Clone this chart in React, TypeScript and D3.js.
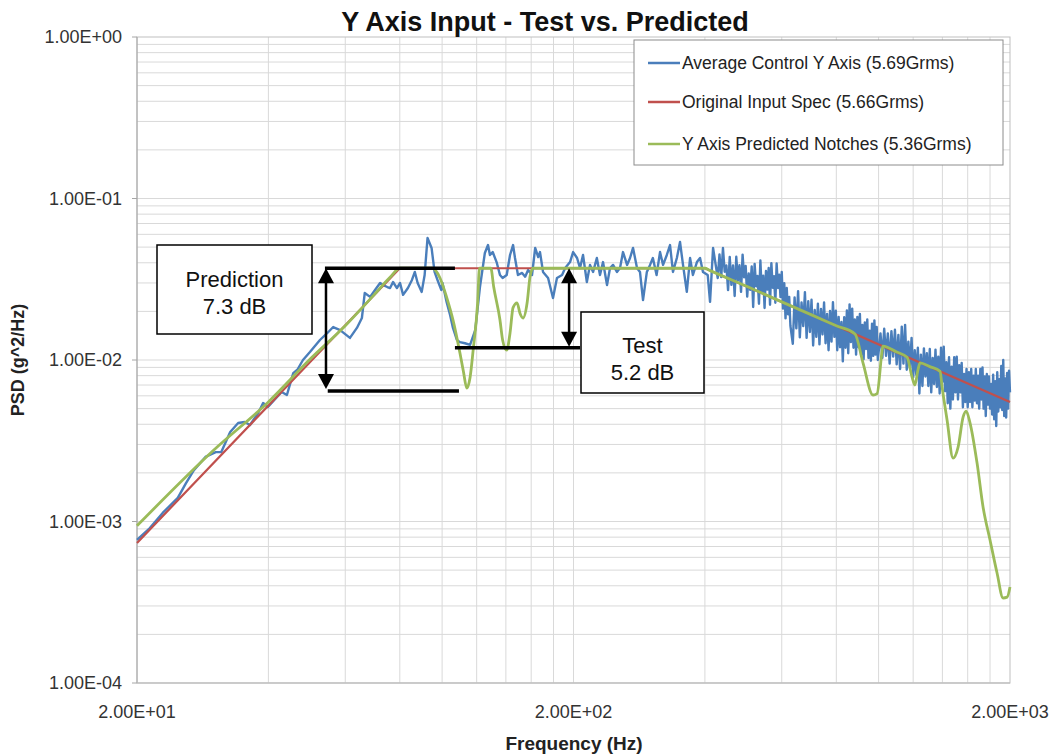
import React from 'react';
import * as d3 from 'd3';

const W = 1056;
const H = 756;
const PLOT = { left: 137, right: 1010, top: 37, bottom: 683 };

const chartTitle = 'Y Axis Input - Test vs. Predicted';
const xAxisTitle = 'Frequency (Hz)';
const yAxisTitle = 'PSD (g^2/Hz)';

const xTickValues = [20, 200, 2000];
const xTickLabels = ['2.00E+01', '2.00E+02', '2.00E+03'];
const yTickValues = [1, 0.1, 0.01, 0.001, 0.0001];
const yTickLabels = ['1.00E+00', '1.00E-01', '1.00E-02', '1.00E-03', '1.00E-04'];

const seriesNames = [
  'Average Control Y Axis (5.69Grms)',
  'Original Input Spec (5.66Grms)',
  'Y Axis Predicted Notches (5.36Grms)',
];
const seriesColors = ['#4a7ebb', '#c0504d', '#9bbb59'];

// Original input spec (Hz, g^2/Hz)
const inputSpec: [number, number][] = [
  [20, 0.000736], [80, 0.037], [400, 0.037], [2000, 0.0055],
];

// Predicted notches (Hz, g^2/Hz)
const predictedNotches: [number, number][] = [
  [20, 0.00094], [30, 0.00277], [40, 0.0055], [50, 0.0102], [60, 0.0163], [70, 0.0255],
  [76, 0.0325], [80, 0.037], [95, 0.037],
  [98.9, 0.0322], [102.4, 0.0245], [105.9, 0.0177], [109.9, 0.011], [111.9, 0.0085],
  [113.9, 0.0067], [115.9, 0.0078], [117.8, 0.0115], [120.6, 0.0225], [121.8, 0.037],
  [129.3, 0.037], [131.3, 0.0283], [135.7, 0.0177], [137.6, 0.0133], [140.6, 0.0115],
  [143.1, 0.0147], [145.4, 0.0211], [148.5, 0.0226], [150.8, 0.0195], [153.3, 0.0182],
  [156.6, 0.0226], [159, 0.0328], [161.5, 0.037], [250, 0.037], [400, 0.037],
  [410, 0.0359], [500, 0.0285], [600, 0.0229], [700, 0.0191], [800, 0.0163], [883, 0.0145],
  [921, 0.0096], [971, 0.00607], [992, 0.0062], [1019, 0.0115], [1023, 0.0122],
  [1100, 0.0112], [1162, 0.0104], [1193, 0.00785], [1211, 0.007], [1231, 0.0087], [1244, 0.0096],
  [1310, 0.0091], [1383, 0.0085], [1398, 0.0068], [1435, 0.00425], [1481, 0.00247], [1521, 0.00289],
  [1562, 0.00444], [1587, 0.00483], [1620, 0.00407], [1681, 0.0023], [1735, 0.00123],
  [1800, 0.000768], [1868, 0.00048], [1928, 0.000336], [1970, 0.00034], [2000, 0.000393],
];

// Average control measurement (Hz, g^2/Hz)
const averageControl: [number, number][] = [
  [20, 0.00077], [21.4, 0.00091], [22.9, 0.00113], [24.8, 0.0014], [25.9, 0.00173],
  [27.0, 0.00208], [28.7, 0.00251], [30.3, 0.00269], [31.2, 0.00269], [32.7, 0.00358],
  [34.1, 0.00407], [35.3, 0.00413], [36.3, 0.00396], [37.9, 0.0047], [38.9, 0.00542],
  [39.9, 0.00512], [42.9, 0.00634], [44.1, 0.00607], [45.6, 0.0083], [46.6, 0.0087],
  [48.0, 0.010], [49.8, 0.0112], [52.5, 0.0133], [54.6, 0.0147], [56.3, 0.016],
  [58.4, 0.0153], [61.5, 0.0137], [63.8, 0.0158], [65.5, 0.0182], [66.5, 0.026],
  [68.4, 0.0246], [70.2, 0.0271], [72.1, 0.030], [73.3, 0.0291], [74.9, 0.0283],
  [76.0, 0.0279], [77.2, 0.0304], [78.8, 0.0279], [80.1, 0.030], [81.4, 0.0253],
  [83.5, 0.0279], [85.3, 0.0313], [86.6, 0.0351], [87.9, 0.030], [89.8, 0.0264],
  [91.2, 0.0336], [92.6, 0.0569], [94.6, 0.0494], [96.1, 0.0351], [97.6, 0.0313],
  [99.6, 0.0271], [100.2, 0.030], [102.4, 0.0229], [104.3, 0.019], [105.9, 0.0158],
  [108.1, 0.0133], [109.9, 0.0129], [112.8, 0.0127], [115.9, 0.0124], [119.1, 0.0153],
  [122.1, 0.0283], [125.3, 0.046], [127.4, 0.0515], [128.7, 0.0447], [130.6, 0.0466],
  [133.3, 0.0404], [135.7, 0.0336], [137.6, 0.0322], [140.6, 0.0336], [143.1, 0.0447],
  [145.4, 0.0515], [146.9, 0.0428], [149.2, 0.0336], [152.5, 0.0346], [155, 0.0328],
  [157.4, 0.0361], [160.7, 0.0336], [163.4, 0.0494], [166, 0.0434], [167.6, 0.0466],
  [170.3, 0.0351], [174.9, 0.0322], [179.5, 0.0242], [183.3, 0.0322], [188.3, 0.0336],
  [191.4, 0.0371], [196.4, 0.0404], [199.6, 0.0466], [203.8, 0.0428], [207, 0.0371],
  [210.3, 0.0447], [214.6, 0.0304], [218.2, 0.0388], [221.8, 0.0351], [226.2, 0.0428],
  [230, 0.0336], [233.7, 0.0404], [238.7, 0.0291], [242.5, 0.0371], [246.4, 0.0388],
  [251.5, 0.0351], [255.6, 0.0371], [259.7, 0.0466], [265.3, 0.0388], [269.5, 0.0428],
  [273.8, 0.0494], [279.6, 0.0371], [284, 0.0351], [288.6, 0.0235], [294.5, 0.0351],
  [299.5, 0.0388], [304, 0.0428], [310, 0.0336], [315.7, 0.0466], [320.8, 0.0388],
  [327.2, 0.0447], [332.8, 0.0515], [338, 0.0351], [345, 0.0428], [350.8, 0.0538],
  [356.4, 0.0388], [363.6, 0.0264], [369.9, 0.0428], [375.5, 0.0336], [383.5, 0.0404],
  [389.9, 0.0428], [396, 0.0351], [406, 0.0336], [411, 0.0229], [417.6, 0.0494],
  [428, 0.0322],
  [432, 0.0451], [436, 0.0326], [440, 0.0494], [444, 0.0352], [448, 0.0385],
  [452, 0.0271], [456, 0.0435], [460, 0.0292], [464, 0.0385], [468, 0.0249],
  [472, 0.0436], [476, 0.0311], [480, 0.0386], [484, 0.0264], [488, 0.0449],
  [492, 0.0325], [496, 0.0382], [500, 0.0247], [504, 0.0344], [508, 0.0272],
  [512, 0.0379], [516, 0.0213], [520, 0.0394], [524, 0.0286], [528, 0.0331],
  [532, 0.0223], [536, 0.0413], [540, 0.026], [544, 0.0333], [548, 0.021],
  [552, 0.0356], [556, 0.0273], [560, 0.0371], [564, 0.022], [568, 0.0398],
  [572, 0.028], [576, 0.033], [580, 0.0226], [584, 0.0396], [588, 0.0279],
  [592, 0.0338], [596, 0.0245], [600, 0.0351], [604, 0.0208], [608, 0.0299],
  [612, 0.0181], [616, 0.0279], [620, 0.0192], [624, 0.0246], [628, 0.0163],
  [636, 0.0126], [642, 0.0244], [648, 0.0157], [654, 0.0267], [660, 0.0138],
  [666, 0.0227], [672, 0.0162], [678, 0.0263], [684, 0.0137], [690, 0.0231],
  [696, 0.0149], [702, 0.0236], [708, 0.0123], [714, 0.0204], [720, 0.0139],
  [726, 0.0223], [732, 0.0125], [738, 0.0207], [744, 0.0144], [750, 0.0227],
  [756, 0.0127], [762, 0.0193], [768, 0.0115], [774, 0.0201], [780, 0.013],
  [786, 0.0228], [792, 0.0139], [798, 0.0202], [804, 0.0115], [810, 0.0185],
  [816, 0.012], [822, 0.0172], [828, 0.0098], [834, 0.0184], [840, 0.0119],
  [846, 0.0203], [852, 0.011], [858, 0.0221], [864, 0.0129], [870, 0.0208],
  [876, 0.0119], [882, 0.0178], [888, 0.0108], [894, 0.0185], [900, 0.012],
  [906, 0.0193], [912, 0.0108], [918, 0.0165], [924, 0.0101], [930, 0.0171],
  [936, 0.0117], [942, 0.0178], [948, 0.0103], [954, 0.0152], [960, 0.0099],
  [966, 0.0168], [972, 0.0106], [978, 0.0176], [984, 0.0108], [990, 0.016],
  [996, 0.01],
  [1010, 0.0146], [1020, 0.0103], [1030, 0.0156], [1040, 0.0106], [1050, 0.0146],
  [1060, 0.0095], [1070, 0.0151], [1080, 0.0105], [1090, 0.0154], [1100, 0.0094],
  [1110, 0.0143], [1120, 0.0088], [1130, 0.0161], [1140, 0.0095], [1150, 0.0165],
  [1160, 0.0087], [1170, 0.013], [1180, 0.0089], [1190, 0.0137], [1200, 0.0078],
  [1210, 0.0115], [1220, 0.0081], [1230, 0.0119], [1240, 0.0062], [1250, 0.0108],
  [1260, 0.0069], [1270, 0.0118], [1280, 0.0079], [1290, 0.011], [1300, 0.0069],
  [1310, 0.0117], [1320, 0.0063], [1330, 0.0103], [1340, 0.0071], [1350, 0.0116],
  [1360, 0.0068], [1370, 0.0105], [1380, 0.0062], [1390, 0.0119], [1400, 0.0073],
  [1410, 0.0121], [1420, 0.0064], [1430, 0.0097], [1440, 0.0054], [1450, 0.0104],
  [1460, 0.005], [1470, 0.0091], [1480, 0.0057], [1490, 0.0104], [1500, 0.0063],
  [1510, 0.0105], [1520, 0.0057], [1530, 0.0093], [1540, 0.0063], [1550, 0.0096],
  [1560, 0.0051], [1570, 0.0082], [1580, 0.0055], [1590, 0.0088], [1600, 0.0051],
  [1610, 0.0084], [1620, 0.0055], [1630, 0.0088], [1640, 0.0051], [1650, 0.008],
  [1660, 0.0056], [1670, 0.0088], [1680, 0.0054], [1690, 0.008], [1700, 0.005],
  [1710, 0.0088], [1720, 0.0057], [1730, 0.009], [1740, 0.005], [1750, 0.0079],
  [1760, 0.0045], [1770, 0.0082], [1780, 0.0053], [1790, 0.0079], [1800, 0.005],
  [1810, 0.0071], [1820, 0.0046], [1830, 0.0081], [1840, 0.0043], [1850, 0.0074],
  [1860, 0.0039], [1870, 0.0084], [1880, 0.0048], [1890, 0.0076], [1900, 0.0051],
  [1910, 0.0092], [1920, 0.0049], [1930, 0.01], [1940, 0.0045], [1950, 0.0077],
  [1960, 0.0044], [1970, 0.0083], [1980, 0.005], [1990, 0.0086], [2000, 0.0063],
];

// Annotation levels (Hz range, g^2/Hz)
const predictionTop = { f0: 53.9, f1: 107, psd: 0.037 };
const predictionBottom = { f0: 54.7, f1: 109.3, psd: 0.00643 };
const testLine = { f0: 107, f1: 207, psd: 0.0119 };
const predictionArrowFreq = 54.2;
const testArrowFreq = 195.4;
const predictionText = ['Prediction', '7.3 dB'];
const testText = ['Test', '5.2 dB'];

const FONT = 'Liberation Sans, Arial, sans-serif';

function Arrow({ x, y1, y2 }: { x: number; y1: number; y2: number }) {
  const hw = 8;
  const hl = 15;
  return (
    <g>
      <line x1={x} x2={x} y1={y1 + hl - 2} y2={y2 - hl + 2} stroke="#000" strokeWidth={2.5} />
      <polygon points={`${x},${y1} ${x - hw},${y1 + hl} ${x + hw},${y1 + hl}`} fill="#000" />
      <polygon points={`${x},${y2} ${x - hw},${y2 - hl} ${x + hw},${y2 - hl}`} fill="#000" />
    </g>
  );
}

export default function App() {
  const x = d3.scaleLog().domain([20, 2000]).range([PLOT.left, PLOT.right]);
  const y = d3.scaleLog().domain([0.0001, 1]).range([PLOT.bottom, PLOT.top]);

  const vGrid: number[] = [];
  for (let f = 40; f < 200; f += 20) vGrid.push(f);
  for (let f = 200; f < 2000; f += 200) vGrid.push(f);
  const hGrid: number[] = [];
  for (let e = -4; e < 0; e++) for (let k = 1; k <= 9; k++) hGrid.push(k * Math.pow(10, e));

  const lineLin = d3
    .line<[number, number]>()
    .x((d) => x(d[0]))
    .y((d) => y(d[1]));
  const lineSmooth = d3
    .line<[number, number]>()
    .x((d) => x(d[0]))
    .y((d) => y(d[1]))
    .curve(d3.curveMonotoneX);

  const legendX = 634;
  const legendY = 40;
  const legendRows = [63, 102, 144];

  const pTop = y(predictionTop.psd);
  const pBot = y(predictionBottom.psd);
  const tLev = y(testLine.psd);

  return (
    <svg
      width={W}
      height={H}
      style={{ position: 'absolute', left: 0, top: 0, background: '#fff' }}
      fontFamily={FONT}
    >
      <rect x={0} y={0} width={W} height={H} fill="#fff" />
      <g stroke="#d9d9d9" strokeWidth={1}>
        {vGrid.map((f) => (
          <line key={'v' + f} x1={x(f)} x2={x(f)} y1={PLOT.top} y2={PLOT.bottom} />
        ))}
        {hGrid.map((v, i) => (
          <line key={'h' + i} x1={PLOT.left} x2={PLOT.right} y1={y(v)} y2={y(v)} />
        ))}
      </g>
      <rect
        x={PLOT.left}
        y={PLOT.top}
        width={PLOT.right - PLOT.left}
        height={PLOT.bottom - PLOT.top}
        fill="none"
        stroke="#bfbfbf"
        strokeWidth={1}
      />
      <line x1={PLOT.left} x2={PLOT.left} y1={PLOT.top} y2={PLOT.bottom} stroke="#a6a6a6" />
      <line x1={PLOT.left} x2={PLOT.right} y1={PLOT.bottom} y2={PLOT.bottom} stroke="#bfbfbf" />
      {yTickValues.map((v, i) => (
        <g key={'yt' + i}>
          <line x1={PLOT.left - 5} x2={PLOT.left} y1={y(v)} y2={y(v)} stroke="#a6a6a6" />
          <text x={PLOT.left - 15} y={y(v)} dy="0.35em" textAnchor="end" fontSize={18} fill="#333">
            {yTickLabels[i]}
          </text>
        </g>
      ))}
      {xTickValues.map((v, i) => (
        <text key={'xt' + i} x={x(v)} y={718} textAnchor="middle" fontSize={18} fill="#333">
          {xTickLabels[i]}
        </text>
      ))}
      <text x={545} y={31} textAnchor="middle" fontSize={27} fontWeight="bold" fill="#111">
        {chartTitle}
      </text>
      <text x={574} y={750} textAnchor="middle" fontSize={19} fontWeight="bold" fill="#222">
        {xAxisTitle}
      </text>
      <text
        transform={`translate(24,${(PLOT.top + PLOT.bottom) / 2}) rotate(-90)`}
        textAnchor="middle"
        fontSize={18}
        fontWeight="bold"
        fill="#222"
      >
        {yAxisTitle}
      </text>

      <path d={lineLin(averageControl) || ''} fill="none" stroke={seriesColors[0]} strokeWidth={2.4} strokeLinejoin="round" />
      <path d={lineLin(inputSpec) || ''} fill="none" stroke={seriesColors[1]} strokeWidth={2.2} />
      <path d={lineSmooth(predictedNotches) || ''} fill="none" stroke={seriesColors[2]} strokeWidth={2.8} strokeLinejoin="round" />

      <rect x={legendX} y={legendY} width={369} height={125} fill="#fff" stroke="#8c8c8c" strokeWidth={1} />
      {seriesNames.map((name, i) => (
        <g key={'lg' + i}>
          <line x1={648} x2={680} y1={legendRows[i]} y2={legendRows[i]} stroke={seriesColors[i]} strokeWidth={2.5} />
          <text x={682} y={legendRows[i]} dy="0.35em" fontSize={17.5} fill="#222">
            {name}
          </text>
        </g>
      ))}

      <g stroke="#000" strokeWidth={3.5}>
        <line x1={x(predictionTop.f0)} x2={x(predictionTop.f1)} y1={pTop} y2={pTop} />
        <line x1={x(predictionBottom.f0)} x2={x(predictionBottom.f1)} y1={pBot} y2={pBot} />
        <line x1={x(testLine.f0)} x2={x(testLine.f1)} y1={tLev} y2={tLev} />
      </g>
      <Arrow x={x(predictionArrowFreq)} y1={pTop} y2={pBot - 2} />
      <Arrow x={x(testArrowFreq)} y1={pTop} y2={tLev - 1} />

      <rect x={157} y={245} width={155} height={89} fill="#fff" stroke="#000" strokeWidth={1.5} />
      <text x={234.5} y={287} textAnchor="middle" fontSize={22} fill="#111">{predictionText[0]}</text>
      <text x={234.5} y={314} textAnchor="middle" fontSize={22} fill="#111">{predictionText[1]}</text>

      <rect x={581} y={312} width={123} height={81} fill="#fff" stroke="#000" strokeWidth={1.5} />
      <text x={642.5} y={353} textAnchor="middle" fontSize={22} fill="#111">{testText[0]}</text>
      <text x={642.5} y={380} textAnchor="middle" fontSize={22} fill="#111">{testText[1]}</text>
    </svg>
  );
}
